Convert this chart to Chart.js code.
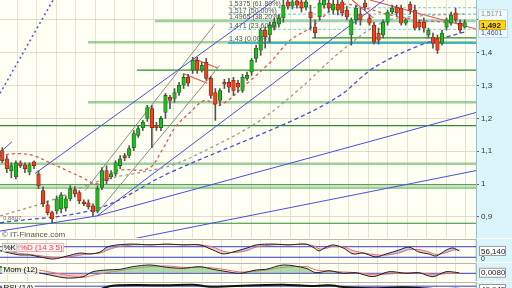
<!DOCTYPE html>
<html>
<head>
<meta charset="utf-8">
<script src="https://cdn.jsdelivr.net/npm/chart.js@4.4.0/dist/chart.umd.min.js"></script>
<style>
  html, body { margin: 0; padding: 0; width: 512px; height: 288px; overflow: hidden; background: #fffff3; }
  canvas { position: absolute; left: 0; }
</style>
</head>
<body>
<canvas id="priceChart" width="512" height="238" style="top:0px"></canvas>
<canvas id="stochChart" width="512" height="23" style="top:239px"></canvas>
<canvas id="momChart" width="512" height="18" style="top:263px"></canvas>
<canvas id="rsiChart" width="512" height="14" style="top:282px"></canvas>
<script>
// daily candles (index = trading day)
const candleOpen = [1.102,1.077,1.041,1.022,1.065,1.059,1.037,1.068,1.031,0.980,
  0.937,0.913,0.918,0.924,0.927,0.955,0.983,0.974,0.946,0.943,
  0.934,0.918,0.990,1.041,1.022,1.031,1.056,1.087,1.087,1.111,
  1.148,1.172,1.200,1.230,1.178,1.172,1.218,1.264,1.261,1.279,
  1.301,1.325,1.347,1.377,1.347,1.371,1.322,1.279,1.255,1.310,
  1.310,1.316,1.307,1.285,1.322,1.341,1.383,1.408,1.469,1.454,
  1.478,1.487,1.506,1.555,1.542,1.558,1.555,1.539,1.524,1.478,
  1.509,1.545,1.551,1.530,1.548,1.555,1.530,1.454,1.500,1.518,
  1.551,1.506,1.484,1.460,1.454,1.493,1.524,1.539,1.536,1.490,
  1.548,1.530,1.493,1.493,1.454,1.448,1.445,1.429,1.478,1.490,
  1.521,1.490,1.478];
const candleHigh = [1.111,1.087,1.065,1.071,1.071,1.065,1.065,1.071,1.041,0.992,
  0.949,0.918,0.964,0.974,0.964,0.995,0.992,0.980,0.952,0.952,
  0.940,0.995,1.050,1.056,1.041,1.071,1.087,1.093,1.117,1.163,
  1.178,1.194,1.240,1.240,1.188,1.206,1.276,1.270,1.291,1.310,
  1.334,1.334,1.386,1.386,1.371,1.383,1.328,1.291,1.291,1.319,
  1.322,1.325,1.316,1.334,1.341,1.383,1.423,1.475,1.478,1.493,
  1.506,1.515,1.570,1.567,1.567,1.570,1.567,1.570,1.545,1.500,
  1.561,1.570,1.561,1.561,1.561,1.561,1.542,1.506,1.545,1.536,
  1.561,1.515,1.493,1.475,1.500,1.530,1.545,1.545,1.545,1.506,
  1.555,1.545,1.500,1.506,1.475,1.460,1.454,1.469,1.506,1.524,
  1.536,1.500,1.500];
const candleLow = [1.065,1.035,1.019,1.016,1.050,1.035,1.028,1.047,0.986,0.931,
  0.906,0.882,0.909,0.912,0.918,0.949,0.961,0.940,0.934,0.924,
  0.903,0.912,0.983,1.001,1.016,1.025,1.047,1.071,1.080,1.102,
  1.142,1.163,1.191,1.111,1.163,1.163,1.200,1.230,1.249,1.270,
  1.291,1.298,1.337,1.337,1.341,1.316,1.261,1.194,1.240,1.291,
  1.279,1.270,1.279,1.279,1.316,1.331,1.371,1.392,1.414,1.432,
  1.469,1.478,1.493,1.533,1.533,1.536,1.524,1.530,1.469,1.445,
  1.500,1.536,1.524,1.518,1.515,1.512,1.500,1.423,1.487,1.484,
  1.530,1.484,1.426,1.426,1.445,1.484,1.518,1.512,1.484,1.484,
  1.518,1.469,1.469,1.463,1.445,1.414,1.398,1.423,1.469,1.484,
  1.493,1.460,1.475];
const candleClose = [1.071,1.047,1.056,1.065,1.056,1.047,1.059,1.056,0.995,0.940,
  0.913,0.894,0.955,0.967,0.955,0.986,0.970,0.949,0.940,0.931,
  0.915,0.986,1.041,1.010,1.031,1.065,1.077,1.080,1.108,1.154,
  1.169,1.188,1.233,1.172,1.172,1.200,1.270,1.255,1.279,1.301,
  1.325,1.307,1.377,1.347,1.362,1.322,1.270,1.243,1.285,1.304,
  1.295,1.285,1.295,1.325,1.331,1.377,1.414,1.469,1.448,1.484,
  1.493,1.506,1.545,1.542,1.555,1.545,1.536,1.555,1.506,1.460,
  1.551,1.561,1.536,1.548,1.530,1.521,1.509,1.500,1.536,1.500,
  1.539,1.490,1.432,1.438,1.493,1.524,1.536,1.521,1.490,1.500,
  1.530,1.475,1.478,1.475,1.469,1.429,1.408,1.460,1.500,1.515,
  1.500,1.469,1.492];

// moving averages [day, price]
const maRedX = [-0.5,3.25,6.8,10.5,14.3,17.8,20.9,25.3,32.2,35.2,38.1,41.4,44.7,48,54,59.1,63.5,67.9,74.5,80,85.5,92.2,97.7,101.9];
const maRedY = [1.087,1.093,1.087,1.065,1.041,1.019,1.001,1.041,1.047,1.102,1.172,1.218,1.255,1.240,1.307,1.371,1.438,1.475,1.545,1.536,1.515,1.499,1.493,1.487];
const maGreyX = [-0.5,10.5,21.6,37,46.9,56.9,65.7,74.5,84,92.2,101.9];
const maGreyY = [0.903,0.949,1.010,1.056,1.117,1.194,1.291,1.402,1.493,1.512,1.518];
const maBlueX = [-0.5,20.9,37,64.1,74.5,81.8,92.2,101.9];
const maBlueY = [0.882,0.925,1.035,1.194,1.270,1.353,1.423,1.463];

// drawn trend lines [day1, price1, day2, price2]
const blueLines = [[-0.5,1.096,2.15,1.129],[7.22,1.032,65.7,1.616],[20.9,0.903,87.7,1.597],
  [20.9,0.903,104.5,1.218],[26.6,0.827,104.5,1.041],[-0.5,0.857,20.9,0.903]];
const blueDotted = [[-0.5,1.276,12.5,1.592]];
const greyLines = [[18.25,0.980,46.9,1.487],[20.9,0.912,48,1.362]];
const redLines = [[42.1,1.383,47.6,1.353],[39.9,1.337,45.2,1.307],[81.1,1.5606,104.5,1.472],[77.2,1.5606,81.8,1.506]];

// horizontal levels [price, first day]
const darkLevels = [[1.347,29.7],[1.445,68.3],[1.178,-0.5],[0.998,-0.5],[0.8807,-0.5]];
const lightLevels = [[1.4965,33.7],[1.432,18.9],[1.249,18.9],[1.062,-0.5],[0.989,-0.5]];

// Fibonacci retracement
const fibStart = 49.8;
const fibLevels = [1.5375,1.517,1.4965,1.471];
const fibTexts = ['1,5375 (61.80%)','1,517 (50.00%)','1,4965 (38.20%)','1,471 (23.60%)'];
const fibZero = 1.43;
const fibZeroText = '1,43 (0.00%)';
const lowLevel = 0.8807, lowText = '0,8807';

const yTicks = [0.9,1.0,1.1,1.2,1.3,1.4,1.5];
const yTickLabels = ['0,9','1','1,1','1,2','1,3','1,4',''];
const lastPrice = 1.492, lastText = '1,492';
const sideValues = [1.5171,1.4965,1.4601];
const sideTexts = ['1,5171','1,4965','1,4601'];

// stochastic %K / %D (14 3 5)
const stochX = [-0.5,1.7,3.9,6.1,8.3,11.2,14.3,17.1,19.4,21.6,23.1,25.3,28.8,32.6,36.3,39.9,43.6,46.5,48.7,50.9,54,56,59.7,63.3,67,68.8,69.9,71.4,73,75.2,77.4,79.6,82.4,84.7,87.5,89.7,91.9,94.1,95.7,97.9,99.4,100.8];
const stochK = [57,44,33,33,22,10,27,44,39,50,78,90,95,90,95,90,90,61,39,50,73,90,95,90,95,73,56,78,90,73,39,44,22,39,61,78,50,39,27,61,73,56.14];
const stochD = [60,52,42,36,29,20,20,32,40,44,60,78,90,92,92,92,90,78,55,46,58,78,90,92,93,84,68,70,82,80,58,45,34,32,45,63,64,50,36,46,60,62];
const stochBands = [20,80];

// momentum (12)
const momX = [-0.5,6.8,10.5,14.3,17.8,20,23.1,26,28.8,32.6,36.3,39.9,43.6,46.5,49.6,52.4,56,58.2,62,67,69.2,72.1,75.2,78,81.8,85.3,89.1,91.9,95,97.9,100.8];
const momVal = [0.099,0.024,-0.026,-0.071,-0.051,0.024,0.05,0.06,0.099,0.125,0.09,0.075,0.099,0.06,0.024,0,0.05,0.06,0.125,0.075,0.009,0.039,0,0.009,-0.051,0.024,0,0.009,-0.051,0.024,0.008];
const momSig = [0.09,0.06,0.02,-0.03,-0.06,-0.03,0.01,0.04,0.07,0.1,0.11,0.09,0.09,0.08,0.05,0.02,0.03,0.05,0.09,0.1,0.05,0.03,0.02,0.01,-0.02,-0.01,0.005,0.005,-0.02,-0.005,0];

// RSI (14)
const rsiX = [-0.5,10,20,24,30,36,42,46,50,56,62,68,72,76,82,88,92,96,100,101.9];
const rsiVal = [55,40,35,72,78,76,80,66,70,77,80,72,76,62,55,62,58,48,52,49.945];

const X_MIN = -0.5, X_MAX = 104.5;
const FONT = 'Liberation Sans';
Chart.defaults.font.family = FONT;

const pts = (xs, ys) => xs.map((x, i) => ({ x, y: ys[i] }));
const seg = s => [{ x: s[0], y: s[1] }, { x: s[2], y: s[3] }];
const line = (data, color, width, dash, extra) => Object.assign({
  type: 'line', data, borderColor: color, borderWidth: width, borderDash: dash || [],
  pointRadius: 0, fill: false, tension: 0
}, extra || {});

const xScale = () => ({
  type: 'linear', min: X_MIN, max: X_MAX, offset: false,
  afterBuildTicks(s) { const t = []; for (let v = 1.16; v < X_MAX; v += 4.3) t.push({ value: v }); s.ticks = t; },
  afterFit(s) { s.height = 0; s.paddingLeft = 0; s.paddingRight = 0; },
  ticks: { display: false },
  grid: { color: 'rgba(205,205,180,0.55)', drawTicks: false },
  border: { display: false }
});

function background(c) {
  const { ctx, chartArea: a, width, height } = c;
  ctx.save();
  ctx.fillStyle = '#fffff3';
  ctx.fillRect(a.left, 0, a.right - a.left, height);
  ctx.fillStyle = '#daf5fb';
  ctx.fillRect(a.right, 0, width - a.right, height);
  ctx.restore();
}

function valueBox(ctx, y, text, fill, stroke, bold) {
  ctx.fillStyle = fill; ctx.strokeStyle = stroke; ctx.lineWidth = 1;
  ctx.fillRect(479, y - 5, 27, 10);
  ctx.strokeRect(479.5, y - 4.5, 26, 9);
  ctx.fillStyle = '#222';
  ctx.font = (bold ? 'bold ' : '') + '8px ' + FONT;
  ctx.textAlign = 'left'; ctx.textBaseline = 'middle';
  ctx.fillText(text, 481, y + 0.5);
}

function tag(ctx, x, y, text, color, bg, border) {
  ctx.font = '8px ' + FONT;
  const w = ctx.measureText(text).width + 3;
  ctx.fillStyle = bg; ctx.fillRect(x, y, w, 9);
  ctx.strokeStyle = border; ctx.lineWidth = 1; ctx.strokeRect(x + 0.5, y + 0.5, w - 1, 8);
  ctx.fillStyle = color; ctx.textBaseline = 'middle'; ctx.textAlign = 'left';
  ctx.fillText(text, x + 1.5, y + 5);
  return x + w + 1;
}

// ---------- price panel ----------
const days = candleOpen.map((_, i) => i);
const rising = i => candleClose[i] >= candleOpen[i];

const priceDatasets = [
  { type: 'bar', grouped: false, barThickness: 3.6, borderWidth: 0.8, borderSkipped: false,
    data: days.map(i => ({ x: i, y: [candleOpen[i], candleClose[i]] })),
    backgroundColor: days.map(i => rising(i) ? '#25b525' : '#ee4320'),
    borderColor: days.map(i => rising(i) ? '#136a13' : '#8a2410') },
  { type: 'bar', grouped: false, barThickness: 1,
    data: days.map(i => ({ x: i, y: [candleLow[i], candleHigh[i]] })),
    backgroundColor: '#555' },
  line(pts(maRedX, maRedY), '#e05555', 1.3, [3, 3], { tension: 0.35 }),
  line(pts(maGreyX, maGreyY), '#9a9a9a', 1.3, [3, 3], { tension: 0.35 }),
  line(pts(maBlueX, maBlueY), '#4a4ae0', 1.3, [4, 3], { tension: 0.35 }),
  ...blueLines.map(s => line(seg(s), '#4c4ce6', 1)),
  ...blueDotted.map(s => line(seg(s), '#5a5aee', 1.6, [2, 3])),
  ...greyLines.map(s => line(seg(s), '#8c8c8c', 1)),
  ...redLines.map(s => line(seg(s), '#ee5050', 1.1)),
  ...fibLevels.map(p => line(seg([fibStart, p, X_MAX, p]), '#93d4ee', 1.4, [3, 2])),
  line(seg([fibStart, fibZero, X_MAX, fibZero]), '#19aac6', 1.5),
  ...darkLevels.map(l => line(seg([l[1], l[0], X_MAX, l[0]]), '#2e8c2e', 1.2)),
  ...lightLevels.map(l => line(seg([l[1], l[0], X_MAX, l[0]]), 'rgba(95,175,95,0.6)', 2.5))
];

const priceDecor = {
  id: 'priceDecor',
  beforeDraw: background,
  afterDraw(c) {
    const { ctx, chartArea: a } = c, xs = c.scales.x, ys = c.scales.y;
    ctx.save();
    ctx.font = '7px ' + FONT; ctx.fillStyle = '#555';
    ctx.textAlign = 'left'; ctx.textBaseline = 'bottom';
    const fx = xs.getPixelForValue(fibStart) + 1;
    fibLevels.forEach((p, i) => ctx.fillText(fibTexts[i], fx, ys.getPixelForValue(p)));
    ctx.fillText(fibZeroText, fx, ys.getPixelForValue(fibZero));
    ctx.font = '6px ' + FONT; ctx.fillStyle = '#777';
    ctx.fillText(lowText, 3, ys.getPixelForValue(lowLevel) - 2);
    ctx.font = '8px ' + FONT; ctx.fillStyle = '#555'; ctx.textBaseline = 'alphabetic';
    ctx.fillText('\u00A9 IT-Finance.com', 2, a.bottom - 1);

    // last values on the right
    const top = ys.getPixelForValue(sideValues[0]) - 5;
    const bot = ys.getPixelForValue(sideValues[2]) + 5;
    ctx.fillStyle = 'rgba(255,255,255,0.55)'; ctx.fillRect(478, top, 30, bot - top);
    ctx.strokeStyle = '#c8d8dc'; ctx.strokeRect(478.5, top + 0.5, 29, bot - top - 1);
    ctx.font = '7px ' + FONT; ctx.textBaseline = 'middle';
    const colors = ['#8a8a8a', '#33a033', '#4444cc'];
    const offs = [0, 7, 0];
    sideValues.forEach((v, i) => {
      ctx.fillStyle = colors[i];
      ctx.fillText(sideTexts[i], 481, ys.getPixelForValue(v) + offs[i]);
    });
    valueBox(ctx, ys.getPixelForValue(lastPrice) + 2.5, lastText, '#ffd51c', '#d5a800', true);
    ctx.restore();
  }
};

new Chart(document.getElementById('priceChart'), {
  type: 'bar',
  data: { datasets: priceDatasets },
  options: {
    responsive: false, animation: false, devicePixelRatio: 1,
    layout: { padding: 0, autoPadding: false },
    plugins: { legend: { display: false }, tooltip: { enabled: false } },
    scales: {
      x: xScale(),
      y: {
        position: 'right', min: 0.8358, max: 1.5606,
        afterBuildTicks(s) { s.ticks = yTicks.map(v => ({ value: v })); },
        afterFit(s) { s.width = 36; s.paddingTop = 0; s.paddingBottom = 0; },
        ticks: { callback: (v, i) => yTickLabels[i], color: '#333', font: { size: 8 }, padding: 2 },
        grid: { color: 'rgba(205,205,180,0.65)', tickColor: '#666', tickLength: 3 },
        border: { color: '#a8bcc0' }
      }
    }
  },
  plugins: [priceDecor]
});

// ---------- indicator panels ----------
function panel(id, datasets, yMin, yMax, drawLabels) {
  return new Chart(document.getElementById(id), {
    type: 'line',
    data: { datasets },
    options: {
      responsive: false, animation: false, devicePixelRatio: 1,
      layout: { padding: 0, autoPadding: false },
      plugins: { legend: { display: false }, tooltip: { enabled: false } },
      scales: {
        x: xScale(),
        y: { position: 'right', min: yMin, max: yMax,
             afterFit(s) { s.width = 36; s.paddingTop = 0; s.paddingBottom = 0; },
             ticks: { display: false }, grid: { display: false }, border: { color: '#a8bcc0' } }
      }
    },
    plugins: [{
      id: id + 'Decor',
      beforeDraw: background,
      afterDraw(c) {
        const ctx = c.ctx;
        ctx.save();
        ctx.strokeStyle = '#b8b8b0'; ctx.lineWidth = 1;
        ctx.beginPath(); ctx.moveTo(0, 0.5); ctx.lineTo(c.chartArea.right, 0.5); ctx.stroke();
        drawLabels(ctx, c.scales.y);
        ctx.restore();
      }
    }]
  });
}

const fullLine = v => [{ x: X_MIN, y: v }, { x: X_MAX, y: v }];

panel('stochChart', [
  line(pts(stochX, stochK), '#222', 1, [], { tension: 0.3, fill: { target: 1, above: 'rgba(120,120,225,0.45)', below: 'rgba(240,140,140,0.45)' } }),
  line(pts(stochX, stochD), '#ea6a6a', 1, [], { tension: 0.3 }),
  ...stochBands.map(b => line(fullLine(b), '#3a3ac8', 1))
], -6.8, 123.8, (ctx, ys) => {
  const nx = tag(ctx, 2, 4, '%K', '#111', '#f2f2ee', '#bbb');
  tag(ctx, nx, 4, '%D (14 3 5)', '#e04848', '#fdf0f0', '#e0b8b8');
  valueBox(ctx, ys.getPixelForValue(stochK[stochK.length - 1]), '56,140', '#ffffff', '#999', false);
  ctx.fillStyle = '#333'; ctx.font = '7px ' + FONT; ctx.textBaseline = 'middle';
  ctx.fillText('0', 481, ys.getPixelForValue(stochK[stochK.length - 1]) + 8);
});

panel('momChart', [
  line(pts(momX, momVal), '#222', 1, [], { tension: 0.3, fill: { target: { value: 0 }, above: 'rgba(110,190,110,0.55)', below: 'rgba(235,150,150,0.55)' } }),
  line(pts(momX, momSig), '#ea6a6a', 1, [], { tension: 0.3 }),
  line(fullLine(0), '#3a3ac8', 1)
], -0.1155, 0.1545, (ctx, ys) => {
  tag(ctx, 2, 2, 'Mom (12)', '#111', 'rgba(255,255,240,0.8)', 'rgba(0,0,0,0)');
  valueBox(ctx, ys.getPixelForValue(momVal[momVal.length - 1]), '0,0080', '#ffffff', '#999', false);
});

panel('rsiChart', [
  line(pts(rsiX, rsiVal), '#111', 2, [], { tension: 0.3 }),
  line(fullLine(70), '#3a3ac8', 1)
], 0, 100, (ctx, ys) => {
  tag(ctx, 2, 1, 'RSI (14)', '#111', 'rgba(255,255,240,0.8)', 'rgba(0,0,0,0)');
  valueBox(ctx, ys.getPixelForValue(rsiVal[rsiVal.length - 1]), '49,945', '#ffffff', '#999', false);
});
</script>
</body>
</html>
